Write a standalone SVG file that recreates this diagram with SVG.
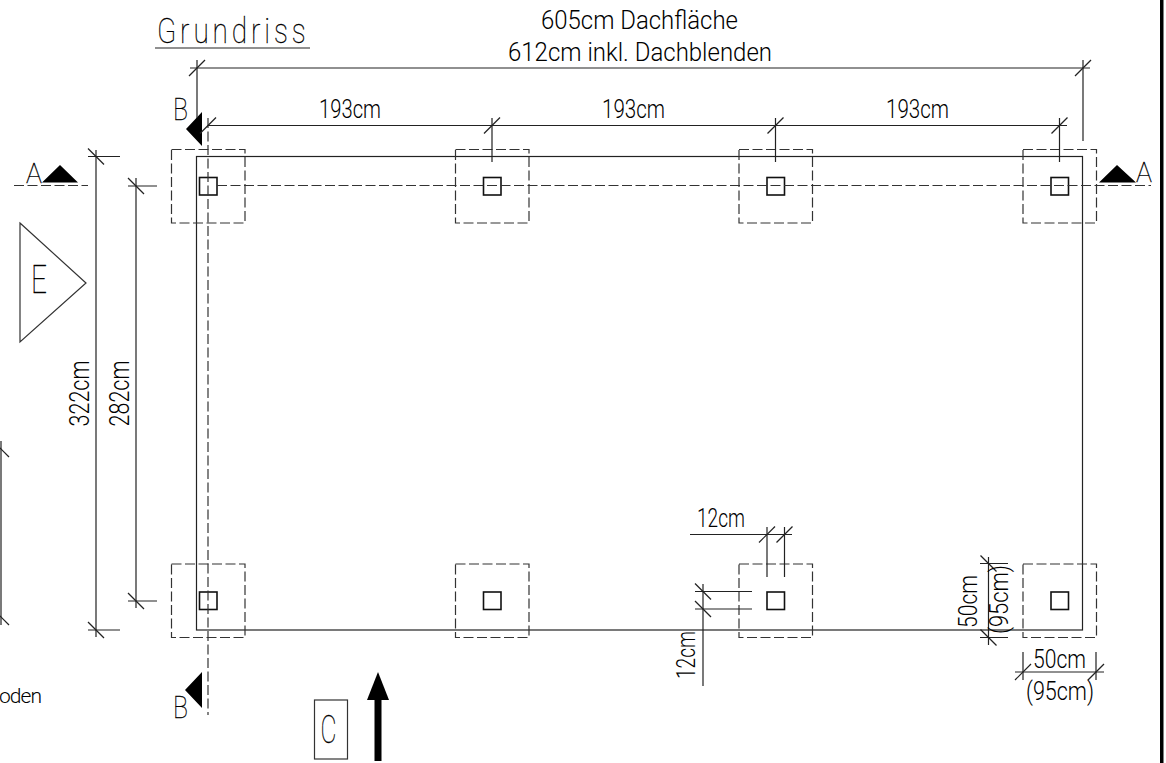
<svg xmlns="http://www.w3.org/2000/svg" width="1166" height="763" viewBox="0 0 1166 763">
<style>
.l{fill:none;stroke:#222;stroke-width:1.2}
.d{fill:none;stroke:#333;stroke-width:1.2;stroke-dasharray:10 3.500}
.p{fill:none;stroke:#111;stroke-width:1.6}
.k{fill:#000;stroke:none}
text{font-family:"Roboto","Liberation Sans",sans-serif;fill:#000;font-size:25px;font-weight:300}
.t{font-weight:100;fill:#000;stroke:#000;stroke-width:.3;font-size:31px}
</style>
<defs>
<g id="fw"><rect class="d" x="-36.500" y="-36.500" width="73.500" height="73.500"/></g>
<path id="tf" class="l" d="M-8 8L8 -8"/>
<path id="tb" class="l" d="M-8 -8L8 8"/>
</defs>
<rect width="1166" height="763" fill="#fff"/>
<g id="border"><rect x="1160" y="0" width="3.500" height="763" fill="#000"/></g>
<g id="roof"><rect class="l" x="196.500" y="156.500" width="886" height="473.500"/></g>
<g id="footings">
<use href="#fw" x="208" y="186"/><use href="#fw" x="492" y="186"/><use href="#fw" x="775.500" y="186"/><use href="#fw" x="1059.500" y="186"/>
<use href="#fw" x="208" y="600.500"/><use href="#fw" x="492" y="600.500"/><use href="#fw" x="775.500" y="600.500"/><use href="#fw" x="1059.500" y="600.500"/>
</g>
<g id="posts">
<rect class="p" x="199.500" y="177.500" width="17.500" height="17.500"/><rect class="p" x="483.500" y="177.500" width="17.500" height="17.500"/><rect class="p" x="767" y="177.500" width="17.500" height="17.500"/><rect class="p" x="1051" y="177.500" width="17.500" height="17.500"/>
<rect class="p" x="199.500" y="592" width="17.500" height="17.500"/><rect class="p" x="483.500" y="592" width="17.500" height="17.500"/><rect class="p" x="767" y="592" width="17.500" height="17.500"/><rect class="p" x="1051" y="592" width="17.500" height="17.500"/>
</g>
<g id="section-lines">
<path class="d" d="M14 185.500H88M217 185.500H1151M208 118V715"/>
<path class="k" d="M42 182.500L60 165L78 182.500ZM1099 182.500L1117 165L1136 182.500ZM186 129L202 112V146ZM185 690L202 672V708Z"/>
</g>
<g id="connectors">
<path class="l" d="M190 68H1090M197 60V118M1083 60V141"/>
<use href="#tf" x="197" y="68"/><use href="#tf" x="1083" y="68"/>
<path class="l" d="M208 125.500H1067M492 118V162M775.500 118V162M1059.500 118V162"/>
<use href="#tf" x="208" y="125.500"/><use href="#tf" x="492" y="125.500"/><use href="#tf" x="775.500" y="125.500"/><use href="#tf" x="1059.500" y="125.500"/>
<path class="l" d="M96 150V637M88 156.500H120M88 630H120M136 178V608M128 186H157M128 601H157M1 441V625"/>
<use href="#tb" x="96" y="156.500"/><use href="#tb" x="96" y="630"/><use href="#tb" x="136" y="186"/><use href="#tb" x="136" y="601"/><use href="#tb" x="1" y="617"/><use href="#tb" x="1" y="449"/>
<path class="l" d="M690 534.500H792M767 527V577M784.500 527V577M703 584V686M695 591.500H752M695 609H752"/>
<use href="#tf" x="767" y="534.500"/><use href="#tf" x="784.500" y="534.500"/><use href="#tb" x="703" y="591.500"/><use href="#tb" x="703" y="609"/>
<path class="l" d="M988.500 557V645M980 563.500H1008M980 637.500H1008M1015 672H1104M1023 652V680M1096 652V680"/>
<use href="#tb" x="988.500" y="563.500"/><use href="#tb" x="988.500" y="637.500"/><use href="#tf" x="1023" y="672"/><use href="#tf" x="1096" y="672"/>
</g>
<g id="title">
<text class="t" transform="translate(157 43) scale(.8 1)" textLength="186" lengthAdjust="spacing" style="font-size:35px">Grundriss</text>
<path class="l" d="M155 48H310"/>
</g>
<g id="labels">
<text x="541" y="28.500" textLength="197" lengthAdjust="spacingAndGlyphs">605cm Dachfläche</text>
<text x="508" y="60.500" textLength="264" lengthAdjust="spacingAndGlyphs">612cm inkl. Dachblenden</text>
<text x="319" y="117.500" textLength="62" lengthAdjust="spacingAndGlyphs">193cm</text>
<text x="602" y="117.500" textLength="63" lengthAdjust="spacingAndGlyphs">193cm</text>
<text x="886" y="117.500" textLength="63" lengthAdjust="spacingAndGlyphs">193cm</text>
<text transform="translate(89 426.500) rotate(-90)" textLength="66" lengthAdjust="spacingAndGlyphs" style="font-size:27px">322cm</text>
<text transform="translate(129 426.500) rotate(-90)" textLength="66" lengthAdjust="spacingAndGlyphs" style="font-size:27px">282cm</text>
<text x="697" y="527" textLength="48" lengthAdjust="spacingAndGlyphs">12cm</text>
<text transform="translate(695 679) rotate(-90)" textLength="48" lengthAdjust="spacingAndGlyphs">12cm</text>
<text transform="translate(977 628) rotate(-90)" textLength="53" lengthAdjust="spacingAndGlyphs">50cm</text>
<text transform="translate(1008 634) rotate(-90)" textLength="69" lengthAdjust="spacingAndGlyphs">(95cm)</text>
<text x="1033" y="668" textLength="53" lengthAdjust="spacingAndGlyphs">50cm</text>
<text x="1026" y="700" textLength="68" lengthAdjust="spacingAndGlyphs">(95cm)</text>
<text x="-1" y="703" style="font-size:21px" textLength="43" lengthAdjust="spacing">oden</text>
<text class="t" x="26" y="183" textLength="16" lengthAdjust="spacingAndGlyphs" style="font-size:28px">A</text>
<text class="t" x="1136" y="182" textLength="16" lengthAdjust="spacingAndGlyphs" style="font-size:28px">A</text>
<text class="t" x="173" y="120" textLength="15" lengthAdjust="spacingAndGlyphs">B</text>
<text class="t" x="173" y="718" textLength="15" lengthAdjust="spacingAndGlyphs">B</text>
</g>
<g id="view-e">
<path d="M20 223L86 283L20 342Z" fill="none" stroke="#333" stroke-width="1.200"/>
<text class="t" x="31" y="293" textLength="16" lengthAdjust="spacingAndGlyphs" style="font-size:39px">E</text>
</g>
<g id="view-c">
<rect x="314.500" y="700" width="33" height="59" fill="none" stroke="#333" stroke-width="1.200"/>
<text class="t" x="320.500" y="743" textLength="16" lengthAdjust="spacingAndGlyphs" style="font-size:39px">C</text>
<path class="k" d="M378 672L367 700H389Z"/><rect class="k" x="374.500" y="700" width="7" height="61"/>
</g>
</svg>
